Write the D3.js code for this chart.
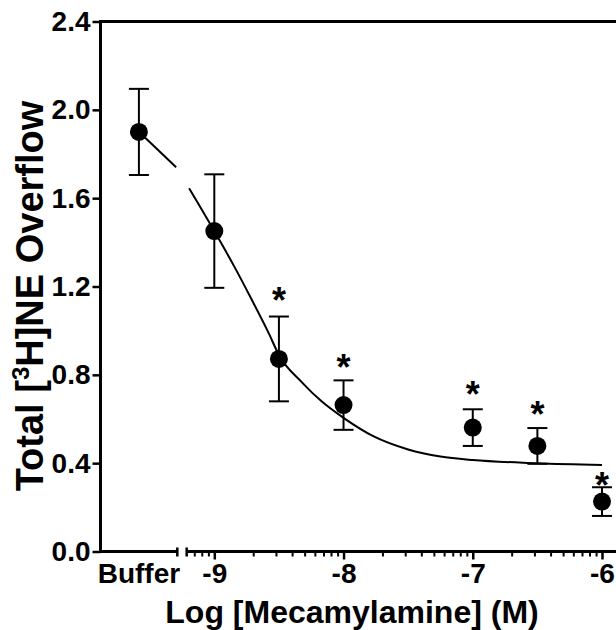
<!DOCTYPE html>
<html>
<head>
<meta charset="utf-8">
<script src="https://cdn.jsdelivr.net/npm/d3@7"></script>
<style>
  body { margin: 0; background: #fff; }
  svg { display: block; }
  text { font-family: "Liberation Sans", Arial, sans-serif; font-weight: bold; fill: #000; }
</style>
</head>
<body>
<svg id="chart" width="616" height="630"></svg>
<script>
// buffer (no drug) group
const bufferLabel = "Buffer";
const bufferMean = 1.90;
const bufferSem = 0.195;

// mecamylamine groups, log molar
const logConc = [-9, -8.5, -8, -7, -6.5, -6];
const meanNE = [1.451, 0.872, 0.663, 0.561, 0.478, 0.226];
const semNE = [0.257, 0.192, 0.112, 0.083, 0.081, 0.065];
// asterisk levels (null = no mark)
const starLevel = [null, 1.17, 0.867, 0.746, 0.654, 0.331];

// fitted curve
const fitBufX = [0.5, 0.985];
const fitBufY = [1.901, 1.74];
const fitLogX = [-9.195, -9.0, -8.845, -8.71, -8.58, -8.5, -8.32, -8.17, -8.0, -7.77, -7.5, -7.25, -7.0, -6.5, -6.0];
const fitY = [1.645, 1.451, 1.29, 1.14, 0.99, 0.89, 0.765, 0.68, 0.605, 0.522, 0.462, 0.43, 0.414, 0.4, 0.392];

// axis ticks
const yTicks = [0, 0.4, 0.8, 1.2, 1.6, 2.0, 2.4];
const xMajor = [-9, -8, -7, -6];

const svg = d3.select("#chart");
const W = 616;

// scales
const y = d3.scaleLinear().domain([0, 2.4]).range([551.5, 21.5]);
const xBuf = d3.scaleLinear().domain([0, 1]).range([100.5, 177.3]);
const xLog = d3.scaleLog().domain([1e-9, 1e-6]).range([214.3, 602]);
const xl = (v) => xLog(Math.pow(10, v));
const segStart = 186.7;

const axisW = 3;
const tickFont = 28;

// y axis + top frame
svg.append("line")
  .attr("x1", xBuf(0)).attr("x2", xBuf(0))
  .attr("y1", y(2.4) - 1.5).attr("y2", y(0) + 1.5)
  .attr("stroke", "#000").attr("stroke-width", axisW);
svg.append("line")
  .attr("x1", xBuf(0)).attr("x2", W)
  .attr("y1", y(2.4)).attr("y2", y(2.4))
  .attr("stroke", "#000").attr("stroke-width", axisW);

const yAx = svg.append("g")
  .attr("transform", `translate(${xBuf(0)},0)`)
  .call(d3.axisLeft(y).tickValues(yTicks).tickSize(8).tickPadding(2)
    .tickFormat(d3.format(".1f")));
yAx.select(".domain").remove();
yAx.selectAll(".tick line").attr("stroke-width", 2.5);
yAx.selectAll(".tick text").attr("font-size", tickFont).attr("font-family", null);

// x axis, buffer segment
svg.append("line")
  .attr("x1", xBuf(0)).attr("x2", xBuf(1))
  .attr("y1", y(0)).attr("y2", y(0))
  .attr("stroke", "#000").attr("stroke-width", axisW);
svg.append("line")
  .attr("x1", xBuf(1)).attr("x2", xBuf(1))
  .attr("y1", y(0) - 4).attr("y2", y(0) + 5)
  .attr("stroke", "#000").attr("stroke-width", 2.5);
svg.append("text")
  .attr("x", xBuf(0.5)).attr("y", 583)
  .attr("text-anchor", "middle").attr("font-size", tickFont)
  .text(bufferLabel);

// x axis, log segment
svg.append("line")
  .attr("x1", segStart).attr("x2", W)
  .attr("y1", y(0)).attr("y2", y(0))
  .attr("stroke", "#000").attr("stroke-width", axisW);
svg.append("line")
  .attr("x1", segStart).attr("x2", segStart)
  .attr("y1", y(0) - 4).attr("y2", y(0) + 5)
  .attr("stroke", "#000").attr("stroke-width", 2.5);

const minorTicks = d3.scaleLog().domain([Math.pow(10, -9.21), Math.pow(10, -5.85)]).ticks()
  .filter((t) => Math.abs(Math.log10(t) - Math.round(Math.log10(t))) > 1e-6);
const xMinor = svg.append("g")
  .attr("transform", `translate(0,${y(0)})`)
  .call(d3.axisBottom(xLog).tickValues(minorTicks).tickSize(5).tickFormat(""));
xMinor.select(".domain").remove();
xMinor.selectAll(".tick line").attr("stroke-width", 2);

const xMaj = svg.append("g")
  .attr("transform", `translate(0,${y(0)})`)
  .call(d3.axisBottom(xLog).tickValues(xMajor.map((v) => Math.pow(10, v)))
    .tickSize(8).tickPadding(4)
    .tickFormat((d) => Math.round(Math.log10(d))));
xMaj.select(".domain").remove();
xMaj.selectAll(".tick line").attr("stroke-width", 2.5);
xMaj.selectAll(".tick text").attr("font-size", tickFont).attr("font-family", null)
  .attr("y", null).attr("dy", null)
  .attr("transform", "translate(0,31.5)");

// fitted curve
const fitLine = d3.line().curve(d3.curveMonotoneX);
svg.append("path")
  .attr("d", fitLine(fitBufX.map((v, i) => [xBuf(v), y(fitBufY[i])])))
  .attr("fill", "none").attr("stroke", "#000").attr("stroke-width", 2);
svg.append("path")
  .attr("d", fitLine(fitLogX.map((v, i) => [xl(v), y(fitY[i])])))
  .attr("fill", "none").attr("stroke", "#000").attr("stroke-width", 2);

// points with SEM bars
const pts = [{ px: xBuf(0.5), m: bufferMean, s: bufferSem, star: null }]
  .concat(logConc.map((c, i) => ({ px: xl(c), m: meanNE[i], s: semNE[i], star: starLevel[i] })));

const capHalf = 10;
const g = svg.append("g");
pts.forEach((p) => {
  const e = g.append("g");
  e.append("line")
    .attr("x1", p.px).attr("x2", p.px)
    .attr("y1", y(p.m + p.s)).attr("y2", y(p.m - p.s))
    .attr("stroke", "#000").attr("stroke-width", 2);
  [p.m + p.s, p.m - p.s].forEach((v) => {
    e.append("line")
      .attr("x1", p.px - capHalf).attr("x2", p.px + capHalf)
      .attr("y1", y(v)).attr("y2", y(v))
      .attr("stroke", "#000").attr("stroke-width", 2);
  });
  e.append("circle")
    .attr("cx", p.px).attr("cy", y(p.m)).attr("r", 9).attr("fill", "#000");
  if (p.star != null) {
    e.append("text")
      .attr("x", p.px).attr("y", y(p.star) + 20)
      .attr("text-anchor", "middle").attr("font-size", 36)
      .text("*");
  }
});

// axis titles
svg.append("text")
  .attr("x", 352).attr("y", 623)
  .attr("text-anchor", "middle").attr("font-size", 32)
  .text("Log [Mecamylamine] (M)");

const yt = svg.append("text")
  .attr("transform", "translate(43,296) rotate(-90)")
  .attr("text-anchor", "middle").attr("font-size", 38);
yt.append("tspan").text("Total [");
yt.append("tspan").attr("font-size", 24).attr("dy", -14).text("3");
yt.append("tspan").attr("dy", 14).text("H]NE Overflow");
</script>
</body>
</html>
